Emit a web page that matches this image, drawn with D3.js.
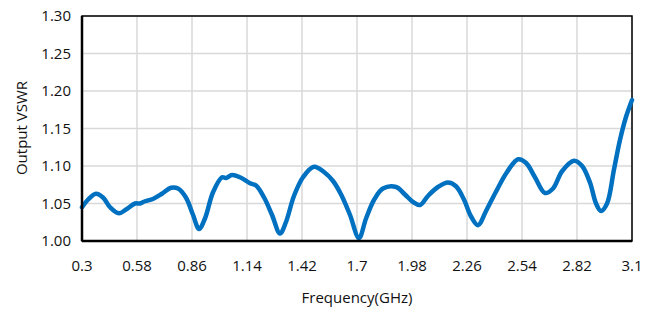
<!DOCTYPE html>
<html>
<head>
<meta charset="utf-8">
<script src="https://cdn.jsdelivr.net/npm/d3@7"></script>
<style>
  body { margin: 0; background: #fff; }
  text { font-family: "Open Sans", sans-serif; fill: #111; }
</style>
</head>
<body>
<div id="chart"></div>
<script>
const freq = [0.300, 0.330, 0.371, 0.407, 0.443, 0.488, 0.524, 0.570, 0.595, 0.621,
  0.661, 0.707, 0.753, 0.789, 0.829, 0.865, 0.896, 0.926, 0.967, 1.013,
  1.033, 1.064, 1.104, 1.155, 1.186, 1.227, 1.267, 1.308, 1.338, 1.379,
  1.425, 1.481, 1.532, 1.578, 1.619, 1.664, 1.710, 1.746, 1.787, 1.832,
  1.899, 1.944, 1.985, 2.021, 2.061, 2.112, 2.163, 2.204, 2.245, 2.280,
  2.316, 2.357, 2.408, 2.464, 2.520, 2.561, 2.606, 2.657, 2.698, 2.744,
  2.805, 2.846, 2.886, 2.917, 2.942, 2.973, 3.008, 3.039, 3.069, 3.100];
const vswr = [1.045, 1.055, 1.063, 1.058, 1.045, 1.037, 1.042, 1.050, 1.050, 1.053,
  1.056, 1.063, 1.071, 1.070, 1.058, 1.035, 1.016, 1.030, 1.065, 1.085,
  1.084, 1.088, 1.085, 1.077, 1.074, 1.058, 1.035, 1.010, 1.025, 1.060,
  1.085, 1.099, 1.092, 1.080, 1.062, 1.035, 1.004, 1.030, 1.055, 1.070,
  1.072, 1.062, 1.052, 1.048, 1.060, 1.072, 1.078, 1.073, 1.055, 1.033,
  1.021, 1.040, 1.066, 1.092, 1.109, 1.104, 1.085, 1.064, 1.070, 1.093,
  1.107, 1.100, 1.078, 1.050, 1.040, 1.050, 1.095, 1.135, 1.165, 1.188];
const xTicks = [0.3, 0.58, 0.86, 1.14, 1.42, 1.7, 1.98, 2.26, 2.54, 2.82, 3.1];
const yTicks = [1.00, 1.05, 1.10, 1.15, 1.20, 1.25, 1.30];

const width = 657, height = 312;
const margin = {top: 16, right: 25, bottom: 71, left: 82};

const svg = d3.select('#chart')
  .append('svg')
  .attr('width', width)
  .attr('height', height);

const x = d3.scaleLinear().domain([0.3, 3.1]).range([margin.left, width - margin.right]);
const y = d3.scaleLinear().domain([1.0, 1.3]).range([height - margin.bottom, margin.top]);

// gridlines
svg.append('g')
  .selectAll('line.vg')
  .data(xTicks)
  .enter()
  .append('line')
  .attr('x1', d => x(d)).attr('x2', d => x(d))
  .attr('y1', y(1.3)).attr('y2', y(1.0))
  .attr('stroke', '#d9d9d9')
  .attr('stroke-width', 1.5);

svg.append('g')
  .selectAll('line.hg')
  .data(yTicks)
  .enter()
  .append('line')
  .attr('x1', x(0.3)).attr('x2', x(3.1))
  .attr('y1', d => y(d)).attr('y2', d => y(d))
  .attr('stroke', '#d9d9d9')
  .attr('stroke-width', 1.5);

// frame
svg.append('rect')
  .attr('x', x(0.3))
  .attr('y', y(1.3))
  .attr('width', x(3.1) - x(0.3))
  .attr('height', y(1.0) - y(1.3))
  .attr('fill', 'none')
  .attr('stroke', '#000')
  .attr('stroke-width', 1.5);

// line
const line = d3.line()
  .x((d, i) => x(freq[i]))
  .y(d => y(d))
  .curve(d3.curveCatmullRom.alpha(0.5));

svg.append('path')
  .datum(vswr)
  .attr('d', line)
  .attr('fill', 'none')
  .attr('stroke', '#0070c0')
  .attr('stroke-width', 4.5)
  .attr('stroke-linejoin', 'round')
  .attr('stroke-linecap', 'round');

// axis lines on top
svg.append('line')
  .attr('x1', x(0.3)).attr('x2', x(3.1))
  .attr('y1', y(1.0)).attr('y2', y(1.0))
  .attr('stroke', '#000').attr('stroke-width', 2.5);
svg.append('line')
  .attr('x1', x(0.3)).attr('x2', x(0.3))
  .attr('y1', y(1.3)).attr('y2', y(1.0))
  .attr('stroke', '#000').attr('stroke-width', 2.5);

// tick labels
svg.append('g')
  .selectAll('text')
  .data(yTicks)
  .enter()
  .append('text')
  .attr('x', x(0.3) - 11)
  .attr('y', d => y(d))
  .attr('dy', '0.35em')
  .attr('text-anchor', 'end')
  .style('font-size', '15px')
  .text(d => d3.format('.2f')(d));

svg.append('g')
  .selectAll('text')
  .data(xTicks)
  .enter()
  .append('text')
  .attr('x', d => x(d))
  .attr('y', 266)
  .attr('dy', '0.35em')
  .attr('text-anchor', 'middle')
  .style('font-size', '15px')
  .text(d => String(d));

// axis titles
svg.append('text')
  .attr('x', 357)
  .attr('y', 298)
  .attr('dy', '0.35em')
  .attr('text-anchor', 'middle')
  .style('font-size', '15px')
  .text('Frequency(GHz)');

svg.append('text')
  .attr('transform', 'translate(22,' + 128 + ') rotate(-90)')
  .attr('dy', '0.35em')
  .attr('text-anchor', 'middle')
  .style('font-size', '15px')
  .text('Output VSWR');
</script>
</body>
</html>
